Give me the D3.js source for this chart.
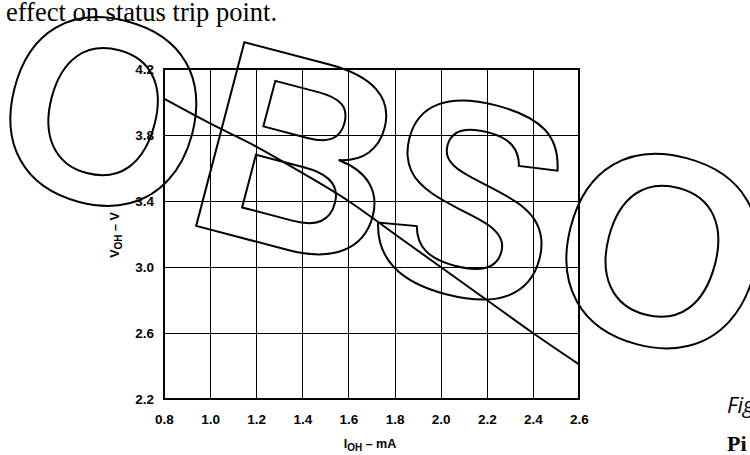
<!DOCTYPE html>
<html>
<head>
    <script src="https://d3js.org/d3.v7.min.js"></script>
    <style>
        body { margin: 0; background: #fff; overflow: hidden; }
        svg { display: block; }
        .axis text {
            font-family: 'Liberation Sans', Arial, sans-serif;
            font-size: 13.5px;
            font-weight: bold;
            fill: #000;
        }
        .axis line { stroke: #000; stroke-width: 1px; shape-rendering: crispEdges; }
        .axis path { display: none; }
        .title {
            font-family: 'Liberation Sans', Arial, sans-serif;
            font-weight: bold;
            font-size: 12.5px;
        }
        .watermark {
            font-family: 'Liberation Sans', Arial, sans-serif;
            font-weight: bold;
            fill: none;
            stroke: #000;
            stroke-width: 2px;
        }
    </style>
</head>
<body>
    <script>
        // V_OH vs I_OH
        var currentMA = [0.8, 1.0, 1.2, 1.4, 1.6, 1.8, 2.0, 2.2, 2.4, 2.6];
        var voltageV = [4.02, 3.87, 3.73, 3.57, 3.40, 3.20, 3.00, 2.80, 2.60, 2.41];

        var xTicks = [0.8, 1.0, 1.2, 1.4, 1.6, 1.8, 2.0, 2.2, 2.4, 2.6];
        var yTicks = [2.2, 2.6, 3.0, 3.4, 3.8, 4.2];

        // watermark letters, their place along the slanted baseline and their size
        var stampLetters = ["O", "B", "S", "O"];
        var stampOffsets = [3, 203, 381, 579];
        var stampBaselines = [96, 92, 92, 92];
        var stampSizes = [264, 276, 276, 272];

        var svgWidth = 750, svgHeight = 455;
        var margin = { top: 69, right: 171, bottom: 56, left: 164 },
            width = svgWidth - margin.left - margin.right,
            height = svgHeight - margin.top - margin.bottom;

        var svg = d3.select("body").append("svg")
            .attr("width", svgWidth)
            .attr("height", svgHeight);

        // body text around the figure
        svg.append("text")
            .attr("x", 6).attr("y", 20.5)
            .style("font-family", "'Liberation Serif', 'Times New Roman', serif")
            .style("font-size", "26.5px")
            .text("effect on status trip point.");

        svg.append("text")
            .attr("x", 727).attr("y", 413)
            .style("font-family", "'Open Sans', 'Noto Sans', sans-serif")
            .style("font-style", "italic")
            .style("font-size", "22px")
            .text("Fig");

        svg.append("text")
            .attr("x", 727).attr("y", 451)
            .style("font-family", "'Liberation Serif', serif")
            .style("font-weight", "bold")
            .style("font-size", "22px")
            .text("Pi");

        var x = d3.scaleLinear().domain([0.8, 2.6]).range([0, width]);
        var y = d3.scaleLinear().domain([2.2, 4.2]).range([height, 0]);

        var g = svg.append("g")
            .attr("transform", "translate(" + margin.left + "," + margin.top + ")");

        g.append("g")
            .attr("class", "axis axis-x")
            .attr("transform", "translate(0," + height + ")")
            .call(d3.axisBottom(x).tickValues(xTicks).tickFormat(d3.format(".1f"))
                .tickSize(-height).tickPadding(15));

        g.append("g")
            .attr("class", "axis axis-y")
            .call(d3.axisLeft(y).tickValues(yTicks).tickFormat(d3.format(".1f"))
                .tickSize(-width).tickPadding(10));

        g.append("rect")
            .attr("width", width)
            .attr("height", height)
            .attr("fill", "none")
            .attr("stroke", "#000")
            .attr("stroke-width", 2);

        var line = d3.line()
            .x(function (d, i) { return x(currentMA[i]); })
            .y(function (d) { return y(d); })
            .curve(d3.curveMonotoneX);

        g.append("path")
            .datum(voltageV)
            .attr("fill", "none")
            .attr("stroke", "#000")
            .attr("stroke-width", 2)
            .attr("d", line);

        // axis titles with subscripts
        var yt = svg.append("text")
            .attr("class", "title")
            .attr("transform", "translate(119,235) rotate(-90)")
            .attr("text-anchor", "middle");
        yt.append("tspan").text("V");
        yt.append("tspan").attr("dy", 3).style("font-size", "10px").text("OH");
        yt.append("tspan").attr("dy", -3).text(" \u2013 V");

        var xt = svg.append("text")
            .attr("class", "title")
            .attr("x", 370).attr("y", 448)
            .attr("text-anchor", "middle");
        xt.append("tspan").text("I");
        xt.append("tspan").attr("dy", 3).style("font-size", "10px").text("OH");
        xt.append("tspan").attr("dy", -3).text(" \u2013 mA");

        // "OBSOLETE" outline stamp, tilted
        var stamp = svg.append("g")
            .attr("transform", "translate(101.7,106) rotate(14.7)");

        stamp.selectAll("text")
            .data(stampLetters)
            .enter().append("text")
            .attr("class", "watermark")
            .attr("text-anchor", "middle")
            .attr("x", function (d, i) { return stampOffsets[i]; })
            .attr("y", function (d, i) { return stampBaselines[i]; })
            .style("font-size", function (d, i) { return stampSizes[i] + "px"; })
            .text(function (d) { return d; });
    </script>
</body>
</html>
